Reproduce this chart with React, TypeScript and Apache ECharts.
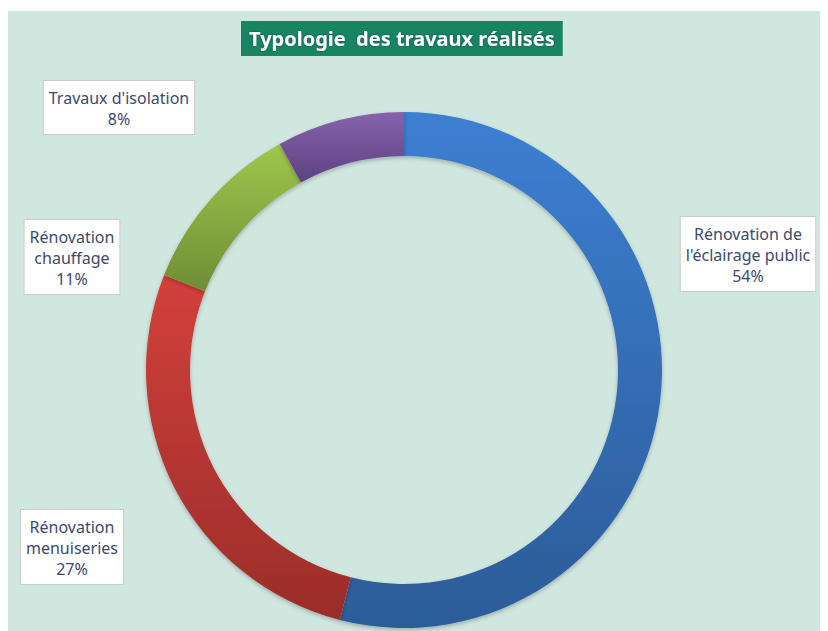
import React, { useEffect, useRef } from "react";
import * as echarts from "echarts";

const categories = [
  "Rénovation de\nl'éclairage public",
  "Rénovation\nmenuiseries",
  "Rénovation\nchauffage",
  "Travaux d'isolation",
];
const values = [54, 27, 11, 8];
const topColors = ["#3d7fd2", "#d3403b", "#9fc74c", "#8762ab"];
const bottomColors = ["#2c5c98", "#9a2d2a", "#6f8d35", "#5c4282"];
const labelPos = [
  { x: 740, y: 206 },
  { x: 64, y: 499 },
  { x: 64, y: 209 },
  { x: 111, y: 70 },
];

export default function App() {
  const ref = useRef<HTMLDivElement>(null);
  useEffect(() => {
    const chart = echarts.init(ref.current!, null, { renderer: "svg" });
    const font = "'Noto Sans', 'Open Sans', sans-serif";
    chart.setOption({
      animation: false,
      backgroundColor: "#d0e7e0",
      title: {
        text: "Typologie  des travaux réalisés",
        left: 233,
        top: 10,
        padding: [7, 8, 8, 8],
        backgroundColor: "#178462",
        textStyle: {
          color: "#ffffff",
          fontSize: 20,
          fontWeight: "bold",
          fontFamily: font,
          textShadowColor: "rgba(0,0,0,0.35)",
          textShadowBlur: 2,
        },
      },
      series: [
        {
          type: "pie",
          center: [396, 359],
          radius: [214, 258],
          startAngle: 90,
          clockwise: true,
          avoidLabelOverlap: false,
          labelLine: { show: false },
          itemStyle: {
            shadowColor: "rgba(0,0,0,0.25)",
            shadowBlur: 4,
            shadowOffsetY: 2,
          },
          label: {
            show: true,
            formatter: "{b}\n{d}%",
            color: "#3b4a6b",
            fontSize: 16,
            lineHeight: 21,
            fontFamily: font,
            align: "center",
            backgroundColor: "#ffffff",
            borderColor: "#c9cccc",
            borderWidth: 1,
            padding: [6, 5, 5, 5],
          },
          labelLayout: (params: any) => {
            const p = labelPos[params.dataIndex];
            return { x: p.x, y: p.y, align: "center", verticalAlign: "top" };
          },
          data: categories.map((name, i) => ({
            name,
            value: values[i],
            itemStyle: {
              color: new echarts.graphic.LinearGradient(0, 0, 0, 1, [
                { offset: 0, color: topColors[i] },
                { offset: 1, color: bottomColors[i] },
              ]),
            },
          })),
        },
      ],
    });
    return () => chart.dispose();
  }, []);
  return (
    <div
      ref={ref}
      style={{ width: 820, height: 620, marginTop: 3 }}
    />
  );
}
